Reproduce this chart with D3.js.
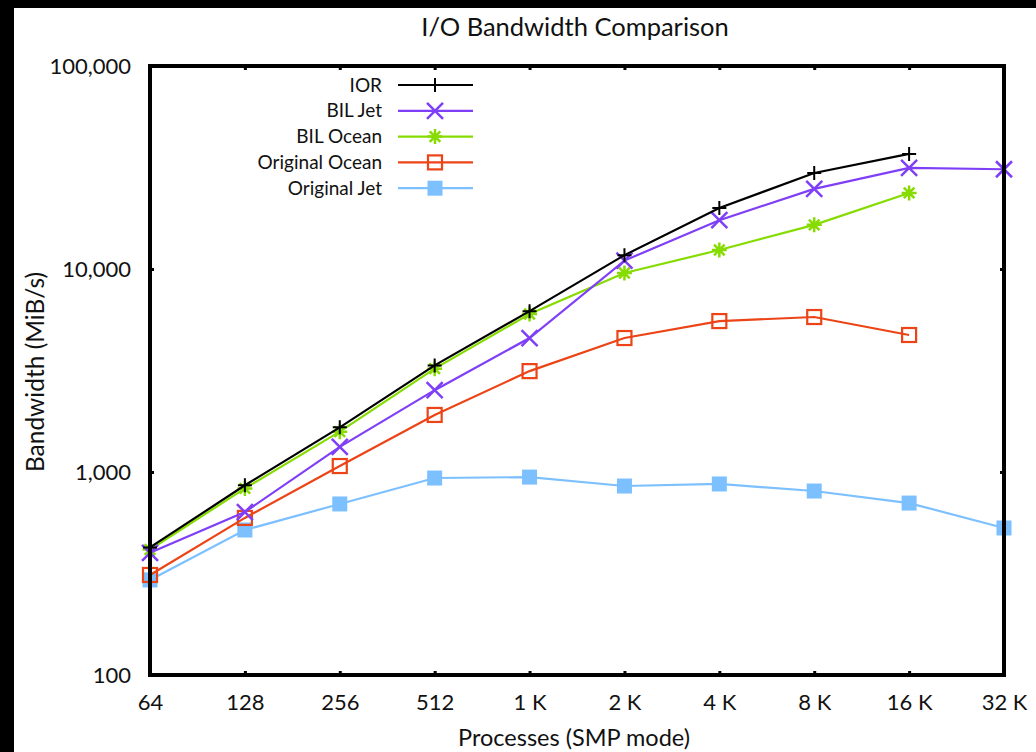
<!DOCTYPE html>
<html><head><meta charset="utf-8">
<script src="https://cdn.jsdelivr.net/npm/d3@7"></script>
<style>
html,body{margin:0;padding:0;background:#fff;}
svg{display:block;}
text{font-family:Lato,"Open Sans",sans-serif;fill:#111;}
</style></head>
<body>
<svg id="chart" width="1036" height="752"></svg>
<script>
const categories = ["64","128","256","512","1 K","2 K","4 K","8 K","16 K","32 K"];
const yTicks = [100,1000,10000,100000];
const seriesNames = ["IOR","BIL Jet","BIL Ocean","Original Ocean","Original Jet"];
const iorValues = [425,860,1660,3350,6200,11700,20000,29700,36900,null];
const bilJetValues = [400,635,1330,2530,4570,11000,17400,24800,31500,31000];
const bilOceanValues = [415,830,1580,3230,6000,9560,12400,16500,23700,null];
const origOceanValues = [311,594,1070,1910,3140,4570,5540,5800,4730,null];
const origJetValues = [294,518,696,934,944,853,873,806,703,530];
const colors = ["#000000","#7f3ff7","#86dc00","#ec4416","#7cc0ff"];
const markers = ["plus","cross","star","square","fsquare"];

const allValues = [iorValues,bilJetValues,bilOceanValues,origOceanValues,origJetValues];
const series = seriesNames.map((n,i)=>({name:n,values:allValues[i],color:colors[i],marker:markers[i]}));

const svg = d3.select("#chart");
const L=150,R=1004,T=66,B=675;
// frame bands
svg.append("rect").attr("x",0).attr("y",0).attr("width",1036).attr("height",8).attr("fill","#000");
svg.append("rect").attr("x",0).attr("y",0).attr("width",14).attr("height",752).attr("fill","#000");

const x = d3.scalePoint().domain(categories).range([L,R]);
const y = d3.scaleLog().domain([100,100000]).range([B,T]);

// title
svg.append("text").attr("x",575).attr("y",36).attr("text-anchor","middle")
  .style("font-size","25.5px").text("I/O Bandwidth Comparison");

// axes via d3
const fmt = d3.format(",");
const yAxis = d3.axisLeft(y).tickValues(yTicks).tickFormat(d=>fmt(d)).tickSize(-4).tickPadding(19);
const yAxisR = d3.axisRight(y).tickValues(yTicks).tickFormat("").tickSize(-4);
const xAxis = d3.axisBottom(x).tickSize(-4).tickPadding(19);
const xAxisT = d3.axisTop(x).tickFormat("").tickSize(-4);

function styleAxis(g){
  g.select(".domain").remove();
  g.selectAll(".tick line").attr("stroke","#000").attr("stroke-width",3);
  g.selectAll(".tick text").style("font-size","22px").style("font-family","Lato").attr("fill","#111");
}
svg.append("g").attr("transform",`translate(${L},0)`).call(yAxis).call(styleAxis);
svg.append("g").attr("transform",`translate(${R},0)`).call(yAxisR).call(styleAxis);
const gx = svg.append("g").attr("transform",`translate(0,${B})`).call(xAxis).call(styleAxis);
gx.selectAll(".tick text").attr("dy","0.71em");
svg.append("g").attr("transform",`translate(0,${T})`).call(xAxisT).call(styleAxis);

// axis labels
svg.append("text").attr("x",574).attr("y",746).attr("text-anchor","middle")
  .style("font-size","23.5px").text("Processes (SMP mode)");
svg.append("text").attr("transform","translate(44,372) rotate(-90)").attr("text-anchor","middle")
  .style("font-size","24.5px").text("Bandwidth (MiB/s)");

const plot = svg.append("g");
const line = d3.line().defined(d=>d.v!=null).x(d=>x(d.c)).y(d=>y(d.v));

function drawMarker(g,type,color,cx,cy){
  const s=7;
  if(type==="plus"){
    g.append("path").attr("d",`M${cx-s},${cy}H${cx+s}M${cx},${cy-s}V${cy+s}`).attr("stroke",color).attr("stroke-width",2).attr("fill","none");
  } else if(type==="cross"){
    const k=8;
    g.append("path").attr("d",`M${cx-k},${cy-k}L${cx+k},${cy+k}M${cx-k},${cy+k}L${cx+k},${cy-k}`).attr("stroke",color).attr("stroke-width",2.5).attr("fill","none");
  } else if(type==="star"){
    const k=7.5, d=5.3;
    g.append("path").attr("d",`M${cx-k},${cy}H${cx+k}M${cx},${cy-k}V${cy+k}M${cx-d},${cy-d}L${cx+d},${cy+d}M${cx-d},${cy+d}L${cx+d},${cy-d}`).attr("stroke",color).attr("stroke-width",2.5).attr("fill","none");
  } else if(type==="square"){
    g.append("rect").attr("x",cx-7).attr("y",cy-7).attr("width",14).attr("height",14).attr("fill","none").attr("stroke",color).attr("stroke-width",2.2);
  } else if(type==="fsquare"){
    g.append("rect").attr("x",cx-7.5).attr("y",cy-7.5).attr("width",15).attr("height",15).attr("fill",color).attr("stroke","none");
  }
}

// draw in reverse order so IOR is on top
series.slice().reverse().forEach(s=>{
  const pts = categories.map((c,i)=>({c,v:s.values[i]}));
  plot.append("path").datum(pts).attr("d",line).attr("fill","none").attr("stroke",s.color).attr("stroke-width",2.2);
  const mg = plot.append("g");
  pts.filter(p=>p.v!=null).forEach(p=>drawMarker(mg,s.marker,s.color,x(p.c),y(p.v)));
});

// frame box
svg.append("rect").attr("x",L).attr("y",T).attr("width",R-L).attr("height",B-T)
  .attr("fill","none").attr("stroke","#000").attr("stroke-width",4);

// legend
const leg = svg.append("g");
series.forEach((s,i)=>{
  const ly = 85 + i*25.8;
  leg.append("text").attr("x",382).attr("y",ly).attr("dy","0.35em").attr("text-anchor","end")
    .style("font-size","19px").text(s.name);
  leg.append("line").attr("x1",398).attr("x2",473).attr("y1",ly).attr("y2",ly).attr("stroke",s.color).attr("stroke-width",2.2);
  drawMarker(leg,s.marker,s.color,435,ly);
});
</script>
</body></html>
